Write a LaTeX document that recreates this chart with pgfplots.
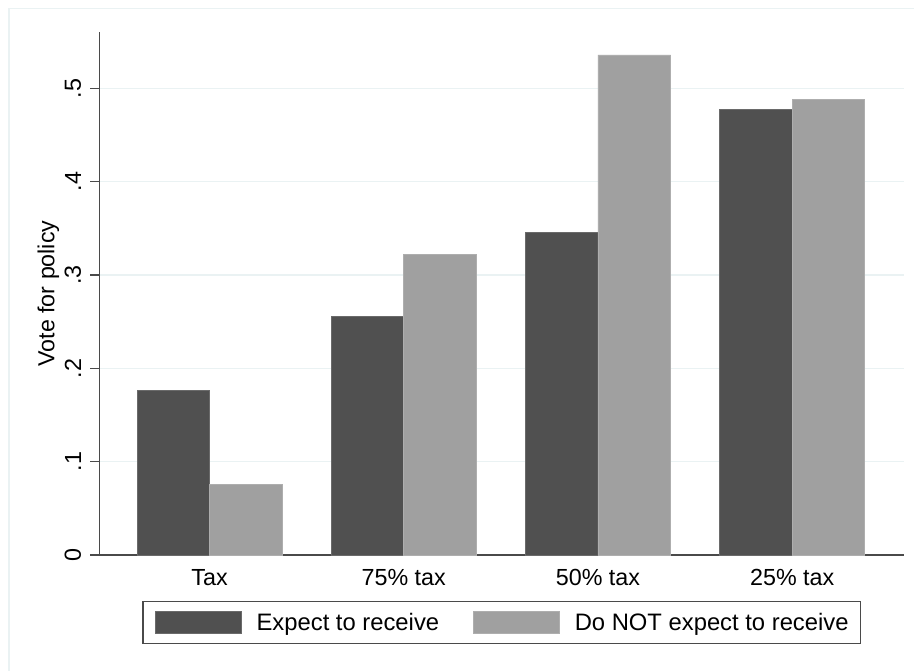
\documentclass[border=0pt]{standalone}
\usepackage{fontspec}
\setmainfont{Liberation Sans}
\usepackage{pgfplots}
\pgfplotsset{compat=1.18}
\definecolor{darkbar}{HTML}{505050}
\definecolor{lightbar}{HTML}{A0A0A0}
\definecolor{gridc}{HTML}{EAF2F3}
\definecolor{axc}{HTML}{4A4A4A}
\begin{document}
\fontsize{23}{27}\selectfont
\begin{tikzpicture}[x=1pt,y=1pt]
\useasboundingbox (0,0) rectangle (914,-671);
\draw[gridc, line width=1.5pt] (9,-8.5) -- (930,-8.5);
\draw[gridc, line width=1.5pt] (9,-8.5) -- (9,-690);
\begin{axis}[
  at={(99.3pt,-555pt)}, anchor=south west,
  scale only axis, width=805pt, height=523pt,
  xmin=-0.5675, xmax=3.577, ymin=0, ymax=0.5603,
  ybar=0pt, bar width=0.3734,
  axis x line*=bottom, axis y line*=left,
  axis line style={axc, line width=1.3pt},
  xtick={0,1,2,3}, xticklabels={Tax,75\% tax,50\% tax,25\% tax},
  x tick style={draw=none},
  ytick={0,0.1,0.2,0.3,0.4,0.5}, yticklabels={0,.1,.2,.3,.4,.5},
  tick align=outside, major tick length=9pt,
  y tick style={axc, line width=1.3pt},
  ymajorgrids, major grid style={gridc, line width=1.2pt},
  /pgf/number format/assume math mode=true,
  tick label style={font=\fontsize{23.3}{27}\selectfont},
  yticklabel style={rotate=90, anchor=south, inner sep=0pt},
  yticklabel shift=9pt,
  xticklabel style={anchor=north, inner sep=0pt, yshift=-5pt},
  ylabel={Vote for policy},
  ylabel style={at={(axis description cs:-0.0634,0.5)}, anchor=center, font=\fontsize{23.2}{27}\selectfont},
  legend columns=2,
  legend image code/.code={\draw[#1, line width=0.6pt] (0pt,-2pt) rectangle (86pt,20pt);},
  legend style={at={(axis description cs:0.5,0)}, anchor=north, yshift=-46pt,
    draw=axc, line width=1.3pt, inner xsep=12pt, inner ysep=9pt,
    font=\fontsize{23.8}{27}\selectfont,
    nodes={inner sep=0pt, anchor=base west},
    /tikz/every odd column/.append style={column sep=15pt},
    /tikz/every even column/.append style={column sep=34pt}},
]
\addplot[fill=darkbar, draw=darkbar!85!white, line width=0.6pt]
  coordinates {(0,0.176) (1,0.256) (2,0.346) (3,0.4775)};
\addplot[fill=lightbar, draw=lightbar!85!white, line width=0.6pt]
  coordinates {(0,0.0758) (1,0.3217) (2,0.5357) (3,0.4882)};
\legend{Expect to receive, Do NOT expect to receive}
\end{axis}
\end{tikzpicture}
\end{document}
